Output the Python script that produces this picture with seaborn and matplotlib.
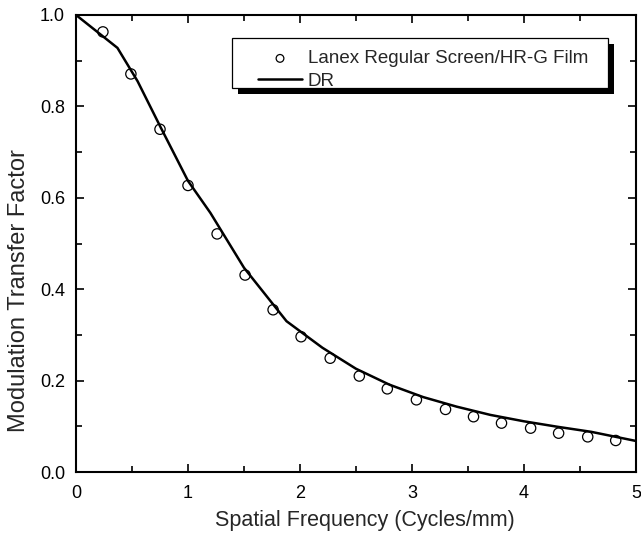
import numpy as np
import pandas as pd
import matplotlib
matplotlib.use("Agg")
import matplotlib.pyplot as plt
import seaborn as sns
from matplotlib.patches import Rectangle
from matplotlib.transforms import ScaledTranslation
from matplotlib.ticker import MultipleLocator

# Data
film_x = [0.24, 0.49, 0.75, 1.00, 1.26, 1.51, 1.76, 2.01, 2.27, 2.53, 2.78, 3.04,
          3.30, 3.55, 3.80, 4.06, 4.31, 4.57, 4.82]
film_y = [0.963, 0.871, 0.750, 0.627, 0.521, 0.431, 0.355, 0.296, 0.249, 0.210,
          0.182, 0.158, 0.137, 0.121, 0.107, 0.096, 0.085, 0.077, 0.069]
dr_x = [0.0, 0.37, 0.55, 0.75, 1.0, 1.2, 1.5, 1.88, 2.2, 2.5, 2.8, 3.1, 3.4, 3.7,
        4.0, 4.3, 4.6, 5.0]
dr_y = [1.0, 0.928, 0.855, 0.757, 0.637, 0.567, 0.447, 0.330, 0.272, 0.226, 0.191,
        0.164, 0.143, 0.125, 0.111, 0.099, 0.088, 0.068]

label_film = "Lanex Regular Screen/HR-G Film"
label_dr = "DR"
xlabel = "Spatial Frequency (Cycles/mm)"
ylabel = "Modulation Transfer Factor"
xtick_vals = [0, 1, 2, 3, 4, 5]
xtick_labels = ["0", "1", "2", "3", "4", "5"]
ytick_vals = [0.0, 0.2, 0.4, 0.6, 0.8, 1.0]
ytick_labels = ["0.0", "0.2", "0.4", "0.6", "0.8", "1.0"]

sns.set_style("ticks")
plt.rcParams['font.family'] = ['Liberation Sans', 'DejaVu Sans']

fig = plt.figure(figsize=(6.41, 5.41), dpi=100)
ax = fig.add_axes([0.1186, 0.1275, 0.8734, 0.8448])

film = pd.DataFrame({"x": film_x, "y": film_y})
dr = pd.DataFrame({"x": dr_x, "y": dr_y})

sns.scatterplot(data=film, x="x", y="y", ax=ax, marker="o", s=55,
                facecolor="none", edgecolor="black", linewidth=0.9,
                label=label_film, zorder=3)
sns.lineplot(data=dr, x="x", y="y", ax=ax, color="black", linewidth=1.8,
             label=label_dr, zorder=2, sort=False)

ax.set_xlim(0, 5)
ax.set_ylim(0, 1.0)
ax.set_xticks(xtick_vals)
ax.set_xticklabels(xtick_labels)
ax.set_yticks(ytick_vals)
ax.set_yticklabels(ytick_labels)
ax.xaxis.set_minor_locator(MultipleLocator(0.5))
ax.yaxis.set_minor_locator(MultipleLocator(0.1))

ax.tick_params(which="both", direction="in", top=True, right=True,
               labelsize=13, width=1.2, colors="black")
ax.tick_params(axis="x", which="major", length=6, pad=9)
ax.tick_params(axis="y", which="major", length=6, pad=8)
ax.tick_params(which="minor", length=4)
for sp in ax.spines.values():
    sp.set_linewidth(1.5)
    sp.set_color("black")

ax.set_xlabel(xlabel, fontsize=15.5)
ax.set_ylabel(ylabel, fontsize=17)
ax.xaxis.set_label_coords(0.516, -0.083)
ax.yaxis.set_label_coords(-0.082, 0.398)

# legend frame with solid drop shadow (axes coordinates)
fx0, fy0, fw, fh = 0.2786, 0.8403, 0.6714, 0.1094
shadow = Rectangle((fx0, fy0), fw, fh, transform=ax.transAxes +
                   ScaledTranslation(6 / 100, -6 / 100, fig.dpi_scale_trans),
                   facecolor="black", edgecolor="none", zorder=5)
frame = Rectangle((fx0, fy0), fw, fh, transform=ax.transAxes,
                  facecolor="white", edgecolor="black", linewidth=0.9, zorder=5.5)
ax.add_patch(shadow)
ax.add_patch(frame)

leg = ax.legend(loc="upper left", bbox_to_anchor=(0.325, 0.923), frameon=False,
                fontsize=13.5, handlelength=2.35, handletextpad=0.3, borderpad=0.0,
                labelspacing=0.3, borderaxespad=0.0, markerscale=0.75)
leg.set_zorder(6)

fig.savefig("out.png", dpi=100)
